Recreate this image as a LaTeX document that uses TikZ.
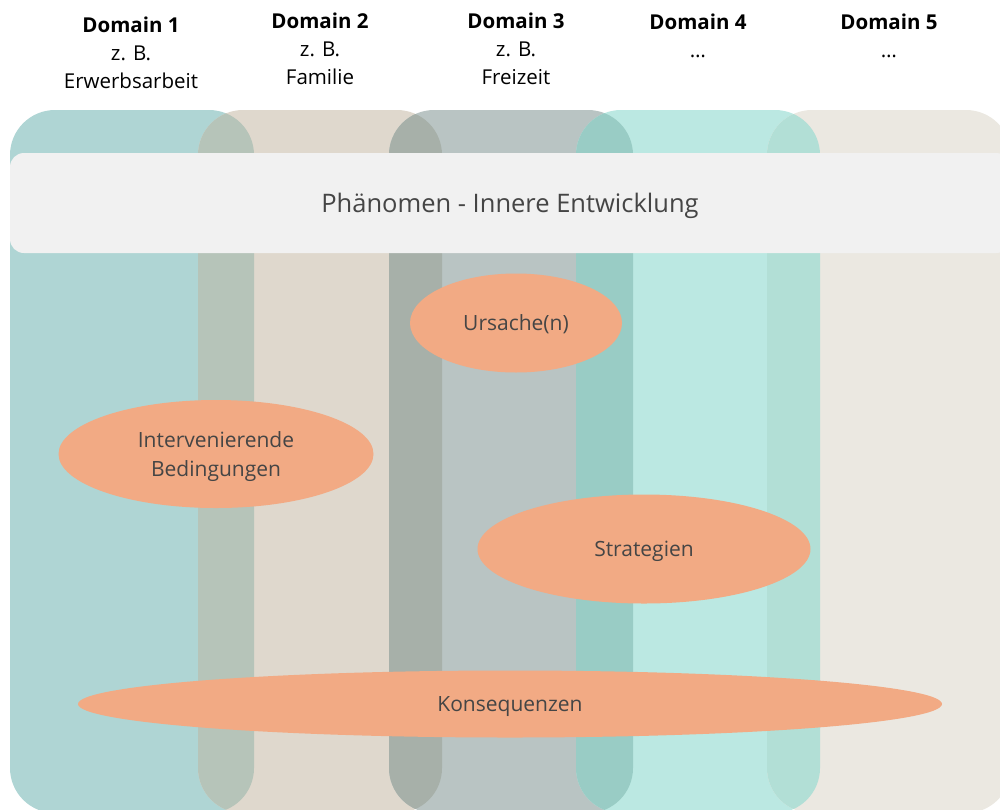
\documentclass[tikz,border=0pt]{standalone}
\usepackage{fontspec}
\setmainfont{Open Sans}
\usetikzlibrary{shapes.geometric, positioning}
\definecolor{domainone}{HTML}{AFD5D4}
\definecolor{domaintwo}{HTML}{DFD8CD}
\definecolor{domainthree}{HTML}{B9C4C3}
\definecolor{domainfour}{HTML}{BBE8E2}
\definecolor{domainfive}{HTML}{EBE8E1}
\definecolor{overlapone}{HTML}{B6C4B9}
\definecolor{overlaptwo}{HTML}{A7B0A9}
\definecolor{overlapthree}{HTML}{99CCC5}
\definecolor{overlapfour}{HTML}{B2DFD6}
\definecolor{bannergrey}{HTML}{F1F1F1}
\definecolor{bubbleorange}{HTML}{F2AA84}
\definecolor{textgrey}{HTML}{454545}

\begin{document}
\begin{tikzpicture}[
        x=1pt, y=-1pt,
        column/.style={rounded corners=45pt},
        banner/.style={rectangle, fill=bannergrey, rounded corners=14pt, minimum width=1000pt, minimum height=100pt, text depth=0pt, text=textgrey, font=\fontsize{25.5}{30}\selectfont},
        bubble/.style={ellipse, fill=bubbleorange, inner sep=0pt, align=center, text depth=0pt, text=textgrey, font=\fontsize{21}{29}\selectfont},
        header/.style={align=center, text=black, font=\fontsize{20.5}{28}\selectfont}
    ]
        \useasboundingbox (0,0) rectangle (1000,809);

        % domain columns
        \foreach \x/\c in {10/domainone, 198/domaintwo, 389/domainthree, 576/domainfour, 767/domainfive}
            \fill[\c, column] (\x,110) rectangle ++(244,703);

        % overlaps of neighbouring columns
        \foreach \x/\nx/\c in {10/198/overlapone, 198/389/overlaptwo, 389/576/overlapthree, 576/767/overlapfour}{
            \begin{scope}
                \clip[column] (\x,110) rectangle ++(244,703);
                \fill[\c, column] (\nx,110) rectangle ++(244,703);
            \end{scope}
        }

        \node[header] (dom1) at (131,53) {\textbf{Domain 1}\\z. B.\\Erwerbsarbeit};
        \node[header] (dom2) at (320,49) {\textbf{Domain 2}\\z. B.\\Familie};
        \node[header] (dom3) at (516,49) {\textbf{Domain 3}\\z. B.\\Freizeit};
        \node[header] (dom4) at (698,36) {\textbf{Domain 4}\\\dots};
        \node[header] (dom5) at (889,36) {\textbf{Domain 5}\\\dots};

        \node[banner] (phaenomen) at (510,203) {Phänomen - Innere Entwicklung};

        \node[bubble, minimum width=212pt, minimum height=99pt] (ursache) at (516,323) {Ursache(n)};
        \node[bubble, minimum width=315pt, minimum height=108pt] (bedingungen) at (216,454) {Intervenierende\\Bedingungen};
        \node[bubble, minimum width=333pt, minimum height=109pt] (strategien) at (644,549) {Strategien};
        \node[bubble, minimum width=864pt, minimum height=67pt] (konsequenzen) at (510,704) {Konsequenzen};
    \end{tikzpicture}
\end{document}
